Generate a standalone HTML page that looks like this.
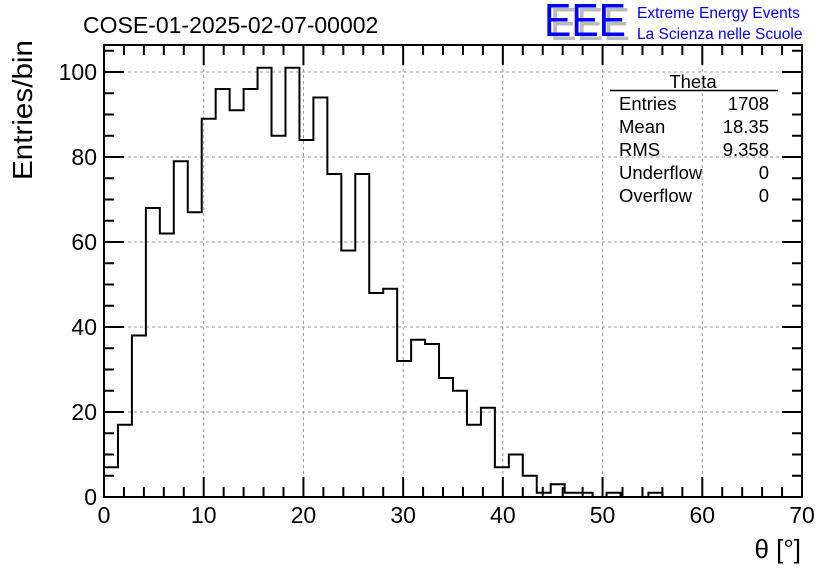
<!DOCTYPE html>
<html><head><meta charset="utf-8"><style>
html,body{margin:0;padding:0;background:#fff;}
svg{display:block;font-family:"Liberation Sans",sans-serif;}
</style></head><body>
<svg id="chart" width="836" height="572">
<rect width="836" height="572" fill="#fff"/>
<text x="83" y="33" font-size="23">COSE-01-2025-02-07-00002</text>
<g>
<text x="550" y="40" font-size="46" fill="#bbb" textLength="80" lengthAdjust="spacingAndGlyphs">EEE</text>
<text x="544" y="36" font-size="46" fill="#0000ff" textLength="82" lengthAdjust="spacingAndGlyphs">EEE</text>
<text x="637" y="18" font-size="15.5" fill="#0000ff">Extreme Energy Events</text>
<text x="637" y="39" font-size="15.5" fill="#0000ff">La Scienza nelle Scuole</text>
</g>
<g id="grid"></g>
<g id="ticks"></g>
<path id="hist" fill="none" stroke="#000" stroke-width="2"/>
<rect x="104" y="45" width="698" height="452" fill="none" stroke="#000" stroke-width="2"/>
<g font-size="18.5">
<text x="693" y="88" text-anchor="middle">Theta</text>
<line x1="610" y1="90.5" x2="778" y2="90.5" stroke="#000" stroke-width="1.5"/>
<text x="619" y="110">Entries</text><text x="769" y="110" text-anchor="end">1708</text>
<text x="619" y="133">Mean</text><text x="769" y="133" text-anchor="end">18.35</text>
<text x="619" y="156">RMS</text><text x="769" y="156" text-anchor="end">9.358</text>
<text x="619" y="179">Underflow</text><text x="769" y="179" text-anchor="end">0</text>
<text x="619" y="202">Overflow</text><text x="769" y="202" text-anchor="end">0</text>
</g>
<text transform="translate(32,110) rotate(-90)" text-anchor="middle" font-size="28" textLength="140" lengthAdjust="spacingAndGlyphs">Entries/bin</text>
<text x="801" y="558" text-anchor="end" font-size="26">θ [°]</text>
</svg>
<script>
const counts=[7,17,38,68,62,79,67,89,96,91,96,101,85,101,84,94,76,58,76,48,49,32,37,36,28,25,17,21,7,10,5,1,3,1,1,0,1,0,0,1,0,0,0,0,0,0,0,0,0,0];
const xMin=0,xMax=70,binWidth=1.4;
const xTickLabels=[0,10,20,30,40,50,60,70];
const yTickLabels=[0,20,40,60,80,100];
const L=104,R=802,T=45,B=497;
const xs=v=>L+(v-xMin)/(xMax-xMin)*(R-L);
const ys=v=>B-v*4.25;
const NS="http://www.w3.org/2000/svg";
const svg=document.getElementById('chart');
const grid=document.getElementById('grid'),ticks=document.getElementById('ticks');
function mk(tag,a,p){const e=document.createElementNS(NS,tag);for(const k in a)e.setAttribute(k,a[k]);p.appendChild(e);return e;}
xTickLabels.forEach(v=>{const x=xs(v);
 if(v>xMin&&v<xMax){const g=mk('line',{x1:x,x2:x,y1:T,y2:B,stroke:'#999','stroke-dasharray':'3,3','stroke-width':1},grid);
 
 }
 const t=mk('text',{x:x,y:523,'text-anchor':'middle','font-size':23},svg);t.textContent=v;
 
 
});
yTickLabels.forEach(v=>{const y=ys(v);
 if(v>0){const g=mk('line',{x1:L,x2:R,y1:y,y2:y,stroke:'#999','stroke-dasharray':'3,3','stroke-width':1},grid);
 
 }
 const t=mk('text',{x:97,y:y+8,'text-anchor':'end','font-size':23},svg);t.textContent=v;
 
 
});
for(let v=xMin;v<=xMax;v+=2){const x=xs(v);const len=(v%10===0)?20:10;
 mk('line',{x1:x,x2:x,y1:B,y2:B-len,stroke:'#000','stroke-width':2},ticks);
 mk('line',{x1:x,x2:x,y1:T,y2:T+len,stroke:'#000','stroke-width':2},ticks);}
for(let v=0;ys(v)>=T;v+=5){const y=ys(v);const len=(v%20===0)?20:10;
 mk('line',{x1:L,x2:L+len,y1:y,y2:y,stroke:'#000','stroke-width':2},ticks);
 mk('line',{x1:R,x2:R-len,y1:y,y2:y,stroke:'#000','stroke-width':2},ticks);}
let d='M'+xs(xMin)+','+ys(0);
counts.forEach((c,i)=>{const x0=xs(xMin+i*binWidth),x1=xs(xMin+(i+1)*binWidth);d+=' L'+x0+','+ys(c)+' L'+x1+','+ys(c);});
document.getElementById('hist').setAttribute('d',d);
</script>
</body></html>
